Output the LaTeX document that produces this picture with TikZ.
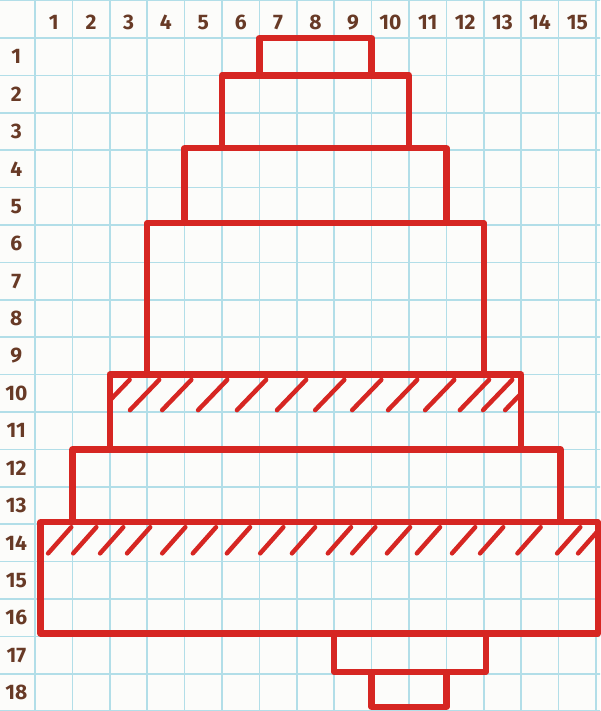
\documentclass[tikz,border=0pt]{standalone}
\usepackage{fontspec}
\setmainfont{Fira Sans}
\definecolor{gridc}{RGB}{178,222,232}
\definecolor{pen}{RGB}{214,38,34}
\definecolor{ink}{RGB}{104,58,38}
\definecolor{paper}{RGB}{252,252,250}
\tikzset{
  tier/.style={draw=pen,line width=4.8pt,line join=round,line cap=round},
  hatch/.style={draw=pen,line width=3.4pt,line cap=round},
  lbl/.style={text=ink,font=\fontsize{16}{16}\selectfont\bfseries,inner sep=0pt}
}
\begin{document}
\begin{tikzpicture}[x=1cm,y=-1cm]
\useasboundingbox (-0.936,-1.016) rectangle (15.107,17.995);
\fill[paper] (-0.936,-1.016) rectangle (15.107,17.995);
% grid
\begin{scope}
\clip (-0.936,-1.016) rectangle (15.107,17.995);
\foreach \k in {0,...,15} \draw[gridc,line width=1.1pt] (\k,-1.1) -- (\k,18.1);
\foreach \k in {-1,...,18} \draw[gridc,line width=1.1pt] (-1,\k) -- (15.2,\k);
\end{scope}
% labels
\foreach \j in {1,...,15} \node[lbl] (c\j) at (\j-0.5,-0.42) {\j};
\foreach \i in {1,...,18} \node[lbl] (r\i) at (-0.5,\i-0.5) {\i};
% hatching tier 5
\begin{scope}
\clip (2,9) rectangle (13,11);
\foreach \x in {1.75,2.54,3.4,4.36,5.4,6.47,7.49,8.48,9.44,10.43,11.36,11.98,12.57}
  \draw[hatch] (\x,9.95) -- (\x+0.78,9.14);
\end{scope}
% hatching tier 7
\begin{scope}
\clip (0.15,13) rectangle (15.05,16);
\foreach \x in {0.35,1.02,1.74,2.46,3.4,4.22,5.13,6.02,6.87,7.83,8.48,9.41,10.21,11.15,11.9,12.9,13.96,14.52}
  \draw[hatch] (\x,13.78) -- (\x+0.62,13.08);
\end{scope}
% tiers
\draw[tier] (6,0) rectangle (9,1);
\draw[tier] (5,1) rectangle (10,2.95);
\draw[tier] (4,2.95) rectangle (11,4.95);
\draw[tier] (3,4.95) rectangle (12,9);
\draw[tier] (2,9) rectangle (13,11);
\draw[tier] (1,11) rectangle (14.05,12.95);
\draw[tier] (0.15,12.95) rectangle (15.05,15.92);
\draw[tier] (8,15.92) rectangle (12.05,16.95);
\draw[tier] (9,16.95) rectangle (11,17.88);
\end{tikzpicture}
\end{document}
